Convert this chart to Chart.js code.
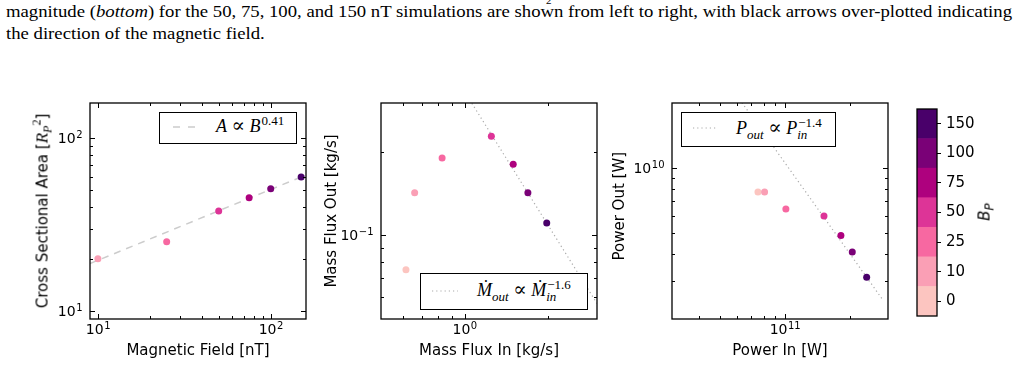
<!DOCTYPE html>
<html>
<head>
<meta charset="utf-8">
<script src="https://cdn.jsdelivr.net/npm/chart.js@4.4.1/dist/chart.umd.min.js"></script>
<style>
  html, body { margin: 0; padding: 0; background: #fff; }
  body { width: 1017px; height: 366px; position: relative; overflow: hidden; font-family: 'DejaVu Sans', sans-serif; color: #000; }
  canvas { position: absolute; }
  .cap { position: absolute; left: 6px; font-family: 'Liberation Serif', serif; font-size: 16px; line-height: 16px; white-space: nowrap; transform-origin: 0 0; }
  .leg { position: absolute; border: 1px solid #000; background: #fff; box-sizing: border-box; z-index: 2; }
  .leg svg { position: absolute; left: 0; top: 0; }
  .math { position: absolute; font-family: 'Liberation Serif', 'DejaVu Serif', serif; font-size: 18px; line-height: 18px; white-space: nowrap; }
  .math sup, .math sub { font-size: 13px; line-height: 0; }
  .math sup { margin-left: 1px; }
  .math .stack { display: inline-block; width: 0; }
  .math .rel { font-family: 'DejaVu Serif', serif; font-size: 20px; line-height: 0; font-style: normal; }
  .rot { position: absolute; white-space: nowrap; transform: translate(-50%, -50%) rotate(-90deg); font-size: 15px; line-height: 1; z-index: 2; }
  .rot .m { font-family: 'Liberation Serif', 'DejaVu Serif', serif; font-size: 17px; }
  .rot sub, .rot sup { font-size: 12px; line-height: 0; }
</style>
</head>
<body>
<div class="cap" id="cap1" style="top:4px">magnitude (<i>bottom</i>) for the 50, 75, 100, and 150 nT simulations are shown from left to right, with black arrows over-plotted indicating</div>
<div class="cap" id="cap2" style="top:26px">the direction of the magnetic field.</div>
<div class="cap" style="left:546px;top:-8px;font-size:11px">2</div>

<canvas id="areaChart" width="296" height="270" style="left:20px;top:95px"></canvas>
<canvas id="massChart" width="287" height="270" style="left:320px;top:95px"></canvas>
<canvas id="powerChart" width="298" height="270" style="left:600px;top:95px"></canvas>
<canvas id="cbar" width="117" height="235" style="left:900px;top:95px"></canvas>

<div class="rot" style="left:42px;top:211px">Cross Sectional Area [<span class="m"><i>R</i><sub><i>P</i></sub><sup>2</sup></span>]</div>
<div class="rot" style="left:985px;top:212px;font-size:15px"><i>B</i><sub><i>P</i></sub></div>

<div class="leg" style="left:159px;top:112px;width:138px;height:32px">
  <svg width="136" height="30"><line x1="13" y1="14" x2="36" y2="14" stroke="#cccccc" stroke-width="1.5" stroke-dasharray="7,8"/></svg>
  <div class="math" style="left:56px;top:4px"><i>A</i> <span class="rel">∝</span> <i>B</i><sup>0.41</sup></div>
</div>
<div class="leg" style="left:420px;top:273px;width:168px;height:37px">
  <svg width="166" height="35"><line x1="11" y1="17" x2="37" y2="17" stroke="#aaaaaa" stroke-width="1.2" stroke-dasharray="1.2,3"/></svg>
  <div class="math" style="left:56px;top:7px"><i>Ṁ</i><sub><i>out</i></sub> <span class="rel">∝</span> <i>Ṁ</i><sub class="stack"><i>in</i></sub><sup>−1.6</sup></div>
</div>
<div class="leg" style="left:681px;top:112px;width:155px;height:35px">
  <svg width="153" height="33"><line x1="11" y1="15" x2="36" y2="15" stroke="#aaaaaa" stroke-width="1.2" stroke-dasharray="1.2,3"/></svg>
  <div class="math" style="left:54px;top:6px"><i>P</i><sub><i>out</i></sub> <span class="rel">∝</span> <i>P</i><sub class="stack"><i>in</i></sub><sup>−1.4</sup></div>
</div>

<script>
// colour levels of B_P (nT)
var levels = [0, 10, 25, 50, 75, 100, 150];
var levelColors = ['#fcc5c0', '#fa9fb5', '#f768a1', '#dd3497', '#ae017e', '#7a0177', '#49006a'];

// left: cross sectional area vs field (B = 0 can't go on a log axis)
var fieldB = [10, 25, 50, 75, 100, 150];
var crossArea = [20.1, 25.2, 37.9, 45.3, 51.0, 59.7];

// middle: mass flux, one point per level
var massIn = [0.615, 0.661, 0.830, 1.249, 1.497, 1.691, 1.977];
var massOut = [0.0752, 0.1426, 0.190, 0.2275, 0.1804, 0.1426, 0.1108];

// right: power
var powerIn = [7.50e10, 8.05e10, 1.01e11, 1.516e11, 1.816e11, 2.05e11, 2.39e11];
var powerOut = [7.74e9, 7.74e9, 6.46e9, 5.99e9, 4.87e9, 4.08e9, 3.12e9];

// power-law fits from the legends: anchor point, exponent, x span drawn
var areaFit = { x0: 150, y0: 59.7, p: 0.41, from: 9, to: 160 };
var massFit = { x0: 1.977, y0: 0.1108, p: -1.6, from: 0.9, to: 3.0 };
var powerFit = { x0: 2.39e11, y0: 3.12e9, p: -1.4, from: 5e10, to: 2.85e11 };

// axis limits
var areaX = [9, 160], areaY = [9, 160];
var massX = [0.5, 3.0], massY = [0.05, 0.3];
var powerX = [3e10, 3e11], powerY = [2e9, 2e10];

function colorOf(b) {
    return levelColors[levels.indexOf(b)];
}

function fitPoints(f) {
    return [f.from, f.to].map(function(x) {
        return { x: x, y: f.y0 * Math.pow(x / f.x0, f.p) };
    });
}

function decadeTicks(scale) {
    var t = [];
    for (var e = Math.ceil(Math.log10(scale.min) - 1e-9); Math.pow(10, e) <= scale.max * (1 + 1e-9); e++) {
        t.push({ value: Math.pow(10, e) });
    }
    scale.ticks = t;
}

// "10" with a raised exponent, like matplotlib's log labels
function drawPow(ctx, v, x, y, align) {
    var e = String(Math.round(Math.log10(v))).replace('-', '\u2212');
    ctx.font = '14px "DejaVu Sans"';
    var wb = ctx.measureText('10').width;
    ctx.font = '10px "DejaVu Sans"';
    var we = ctx.measureText(e).width;
    var x0 = align === 'center' ? x - (wb + we) / 2 : x - wb - we;
    ctx.textAlign = 'left';
    ctx.textBaseline = 'alphabetic';
    ctx.font = '14px "DejaVu Sans"';
    ctx.fillText('10', x0, y);
    ctx.font = '10px "DejaVu Sans"';
    ctx.fillText(e, x0 + wb + 0.5, y - 5);
}

// box round the plot, inward ticks on all four sides, decade labels
var logFrame = {
    id: 'logFrame',
    afterDraw: function(chart) {
        var a = chart.chartArea, ctx = chart.ctx;
        ctx.save();
        ctx.strokeStyle = '#000';
        ctx.fillStyle = '#000';
        ctx.lineWidth = 1;
        ['x', 'y'].forEach(function(id) {
            var s = chart.scales[id];
            if (!s || s.type !== 'logarithmic') return;
            var e0 = Math.floor(Math.log10(s.min)), e1 = Math.ceil(Math.log10(s.max));
            for (var e = e0; e <= e1; e++) {
                for (var m = 1; m < 10; m++) {
                    var v = m * Math.pow(10, e);
                    if (v < s.min * 1.001 || v > s.max * 0.999) continue;
                    var p = Math.round(s.getPixelForValue(v)) + 0.5;
                    var len = m === 1 ? 5 : 3;
                    ctx.beginPath();
                    if (id === 'x') {
                        ctx.moveTo(p, a.bottom); ctx.lineTo(p, a.bottom - len);
                        ctx.moveTo(p, a.top); ctx.lineTo(p, a.top + len);
                    } else {
                        ctx.moveTo(a.left, p); ctx.lineTo(a.left + len, p);
                        ctx.moveTo(a.right, p); ctx.lineTo(a.right - len, p);
                    }
                    ctx.stroke();
                }
            }
            s.ticks.forEach(function(t) {
                var p = s.getPixelForValue(t.value);
                if (id === 'x') drawPow(ctx, t.value, p, a.bottom + 15, 'center');
                else drawPow(ctx, t.value, a.left - 8, p + 5, 'right');
            });
        });
        ctx.lineWidth = 1.3;
        ctx.strokeRect(a.left, a.top, a.right - a.left, a.bottom - a.top);
        ctx.restore();
    }
};

function logAxis(axis, range, title, yWidth, titlePad) {
    return {
        type: 'logarithmic',
        position: axis === 'x' ? 'bottom' : 'left',
        min: range[0],
        max: range[1],
        afterBuildTicks: decadeTicks,
        afterFit: function(s) {
            if (axis === 'x') s.height = 46; else s.width = yWidth;
        },
        grid: { display: false, drawTicks: false },
        border: { display: false },
        ticks: { display: false },
        title: {
            display: !!title,
            text: title,
            color: '#000',
            font: { family: 'DejaVu Sans', size: 15 },
            padding: axis === 'x' ? { top: 0, bottom: 5 } : { top: titlePad, bottom: 0 }
        }
    };
}

function panel(id, xs, ys, colors, fit, fitStyle, xr, yr, xTitle, yTitle, yWidth, titlePad) {
    return new Chart(document.getElementById(id), {
        type: 'scatter',
        data: {
            datasets: [{
                data: xs.map(function(x, i) { return { x: x, y: ys[i] }; }),
                backgroundColor: colors,
                pointRadius: 3.5,
                pointHoverRadius: 3.5,
                pointBorderWidth: 0
            }, {
                data: fitPoints(fit),
                showLine: true,
                pointRadius: 0,
                borderColor: fitStyle.color,
                borderWidth: fitStyle.width,
                borderDash: fitStyle.dash,
                fill: false
            }]
        },
        options: {
            responsive: false,
            animation: false,
            events: [],
            layout: { padding: { top: 8, right: 10, left: 0, bottom: 0 } },
            plugins: { legend: { display: false }, tooltip: { enabled: false } },
            scales: {
                x: logAxis('x', xr, xTitle),
                y: logAxis('y', yr, yTitle, yWidth, titlePad)
            }
        },
        plugins: [logFrame]
    });
}

var dashed = { color: '#cccccc', width: 1.5, dash: [7, 6] };
var dotted = { color: '#aaaaaa', width: 1.2, dash: [1.2, 3] };

panel('areaChart', fieldB, crossArea, fieldB.map(colorOf), areaFit, dashed,
      areaX, areaY, 'Magnetic Field [nT]', '', 70, 0);
panel('massChart', massIn, massOut, levelColors, massFit, dotted,
      massX, massY, 'Mass Flux In [kg/s]', 'Mass Flux Out [kg/s]', 61, 3);
panel('powerChart', powerIn, powerOut, levelColors, powerFit, dotted,
      powerX, powerY, 'Power In [W]', '  Power Out [W]', 72, 11);

// colorbar: one equal block per level
new Chart(document.getElementById('cbar'), {
    type: 'bar',
    data: {
        labels: ['B'],
        datasets: levels.map(function(lv, i) {
            return { label: String(lv), data: [1], backgroundColor: levelColors[i], borderWidth: 0, barPercentage: 1, categoryPercentage: 1 };
        })
    },
    options: {
        responsive: false,
        animation: false,
        events: [],
        layout: { padding: { left: 17, top: 10, bottom: 14, right: 0 } },
        plugins: { legend: { display: false }, tooltip: { enabled: false } },
        scales: {
            x: { display: false, stacked: true },
            y: {
                stacked: true,
                position: 'right',
                min: 0,
                max: levels.length,
                afterBuildTicks: function(s) {
                    s.ticks = levels.map(function(l, i) { return { value: i + 0.5 }; });
                },
                afterFit: function(s) { s.width = 80; },
                ticks: {
                    autoSkip: false,
                    callback: function(v, i) { return levels[i]; },
                    color: '#000',
                    padding: 5,
                    font: { family: 'DejaVu Sans', size: 15 }
                },
                grid: { drawOnChartArea: false, tickLength: 4, color: '#000', lineWidth: 1 },
                border: { display: false }
            }
        }
    },
    plugins: [logFrame]
});

// stretch the caption lines to the text width of the page
var c1 = document.getElementById('cap1'), c2 = document.getElementById('cap2');
var k = 1006 / c1.getBoundingClientRect().width;
c1.style.transform = 'scaleX(' + k + ')';
c2.style.transform = 'scaleX(' + k + ')';
</script>
</body>
</html>
